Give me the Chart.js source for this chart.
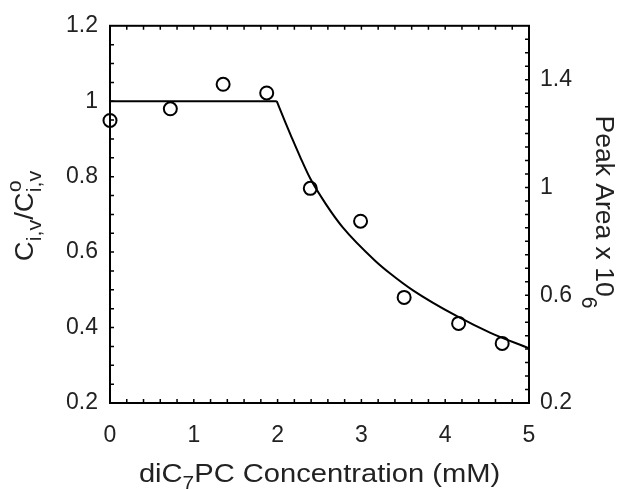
<!DOCTYPE html>
<html>
<head>
<meta charset="utf-8">
<script src="https://cdn.jsdelivr.net/npm/chart.js@4.4.1/dist/chart.umd.min.js"></script>
<style>
  html, body { margin: 0; padding: 0; background: #fff; }
</style>
</head>
<body>
<canvas id="graphConc" width="626" height="490"></canvas>
<script>
// measured points (open circles)
const concPoints = [0, 0.72, 1.35, 1.87, 2.39, 2.99, 3.51, 4.16, 4.68];
const ratioPoints = [0.949, 0.980, 1.045, 1.022, 0.769, 0.682, 0.480, 0.411, 0.358];

// fitted line: plateau, then the decay above ~2 mM
const fitFlatX = [0, 1.99];
const fitFlatY = [1.0, 1.0];
const fitDecayX = [1.99, 2.09, 2.17, 2.27, 2.39, 2.58, 2.78, 3.16, 3.34, 3.62, 4.14, 4.54, 5.0];
const fitDecayY = [1.0, 0.945, 0.903, 0.852, 0.795, 0.726, 0.665, 0.578, 0.544, 0.498, 0.430, 0.386, 0.345];

// tick labels
const xTicks = [0, 1, 2, 3, 4, 5];
const leftTicks = [0.2, 0.4, 0.6, 0.8, 1, 1.2];
const rightTicks = [0.2, 0.6, 1, 1.4];

const fontFamily = '"Liberation Sans", Arial, Helvetica, sans-serif';
const textColor = '#222';

const toXY = (xs, ys) => xs.map((x, i) => ({ x: x, y: ys[i] }));

// draws a row of text pieces (with sub/superscripts) centred on (0,0)
function drawRich(ctx, parts, size) {
  const widths = parts.map(p => {
    let w = 0;
    p.forEach(q => {
      ctx.font = (size * q.s) + 'px ' + fontFamily;
      w = Math.max(w, ctx.measureText(q.t).width);
    });
    return w;
  });
  let x = -widths.reduce((a, b) => a + b, 0) / 2;
  parts.forEach((p, i) => {
    p.forEach(q => {
      ctx.font = (size * q.s) + 'px ' + fontFamily;
      ctx.fillText(q.t, x, q.dy);
    });
    x += widths[i];
  });
}

// box, inward ticks on all four sides, axis titles
const frame = {
  id: 'frame',
  beforeDatasetsDraw(chart) {
    const { ctx, chartArea: a, scales } = chart;
    const len = 4;
    ctx.save();
    ctx.strokeStyle = '#000';
    ctx.lineWidth = 1.5;
    ctx.beginPath();
    for (let i = 1; i < 25; i++) {
      const px = scales.x.getPixelForValue(i * 0.2);
      ctx.moveTo(px, a.bottom); ctx.lineTo(px, a.bottom - len);
      ctx.moveTo(px, a.top); ctx.lineTo(px, a.top + len);
    }
    for (let i = 1; i < 20; i++) {
      const py = scales.y.getPixelForValue(0.2 + i * 0.05);
      ctx.moveTo(a.left, py); ctx.lineTo(a.left + len, py);
    }
    for (let i = 1; i < 28; i++) {
      const py = scales.y2.getPixelForValue(0.2 + i * 0.05);
      ctx.moveTo(a.right, py); ctx.lineTo(a.right - len, py);
    }
    ctx.stroke();
    ctx.lineWidth = 2;
    ctx.strokeRect(a.left, a.top, a.right - a.left, a.bottom - a.top);
    ctx.restore();
  },
  afterDraw(chart) {
    const { ctx, chartArea: a } = chart;
    ctx.save();
    ctx.fillStyle = textColor;
    ctx.textBaseline = 'alphabetic';
    ctx.textAlign = 'left';

    // x title (slightly wide lettering as in the original)
    ctx.save();
    ctx.translate((a.left + a.right) / 2, 482);
    ctx.scale(1.12, 1);
    drawRich(ctx, [
      [{ t: 'diC', s: 1, dy: 0 }],
      [{ t: '7', s: 0.72, dy: 7 }],
      [{ t: 'PC Concentration (mM)', s: 1, dy: 0 }]
    ], 26);
    ctx.restore();

    // left title
    ctx.save();
    ctx.translate(33, 216);
    ctx.rotate(-Math.PI / 2);
    ctx.scale(1.1, 1);
    drawRich(ctx, [
      [{ t: 'C', s: 1, dy: 0 }],
      [{ t: 'i,v', s: 0.78, dy: 8 }],
      [{ t: '/', s: 1, dy: 0 }],
      [{ t: 'C', s: 1, dy: 0 }],
      [{ t: 'o', s: 0.78, dy: -12 }, { t: 'i,v', s: 0.78, dy: 8 }]
    ], 25);
    ctx.restore();

    // right title
    ctx.save();
    ctx.translate(596, 212);
    ctx.rotate(Math.PI / 2);
    drawRich(ctx, [
      [{ t: 'Peak Area x 10', s: 1, dy: 0 }],
      [{ t: '6', s: 0.8, dy: 14 }]
    ], 26.5);
    ctx.restore();

    ctx.restore();
  }
};

const tickFont = { family: fontFamily, size: 23 };

new Chart(document.getElementById('graphConc'), {
  data: {
    datasets: [{
      type: 'line',
      data: toXY(fitFlatX, fitFlatY),
      borderColor: '#000',
      borderWidth: 2,
      pointRadius: 0,
      yAxisID: 'y'
    }, {
      type: 'line',
      data: toXY(fitDecayX, fitDecayY),
      borderColor: '#000',
      borderWidth: 2,
      pointRadius: 0,
      cubicInterpolationMode: 'monotone',
      yAxisID: 'y'
    }, {
      type: 'scatter',
      data: toXY(concPoints, ratioPoints),
      borderColor: '#000',
      backgroundColor: 'rgba(0,0,0,0)',
      borderWidth: 2,
      pointRadius: 6.5,
      pointHoverRadius: 6.5,
      clip: false,
      yAxisID: 'y'
    }]
  },
  options: {
    responsive: false,
    animation: false,
    devicePixelRatio: 1,
    layout: { padding: { top: 19, left: 0, right: 0, bottom: 0 } },
    plugins: { legend: { display: false }, tooltip: { enabled: false } },
    scales: {
      x: {
        type: 'linear',
        min: 0,
        max: 5,
        afterBuildTicks: s => { s.ticks = xTicks.map(v => ({ value: v })); },
        afterFit: s => { s.height = 87; },
        grid: { display: false, drawTicks: false },
        border: { display: false },
        ticks: { font: tickFont, color: textColor, padding: 19, maxRotation: 0, callback: v => String(v) }
      },
      y: {
        type: 'linear',
        position: 'left',
        min: 0.2,
        max: 1.2,
        afterBuildTicks: s => { s.ticks = leftTicks.map(v => ({ value: v })); },
        afterFit: s => { s.width = 110; },
        grid: { display: false, drawTicks: false },
        border: { display: false },
        ticks: { font: tickFont, color: textColor, padding: 12, callback: v => String(v) }
      },
      y2: {
        type: 'linear',
        position: 'right',
        min: 0.2,
        max: 1.6,
        afterBuildTicks: s => { s.ticks = rightTicks.map(v => ({ value: v })); },
        afterFit: s => { s.width = 97; },
        grid: { display: false, drawTicks: false },
        border: { display: false },
        ticks: { font: tickFont, color: textColor, padding: 11, callback: v => String(v) }
      }
    }
  },
  plugins: [frame]
});
</script>
</body>
</html>
